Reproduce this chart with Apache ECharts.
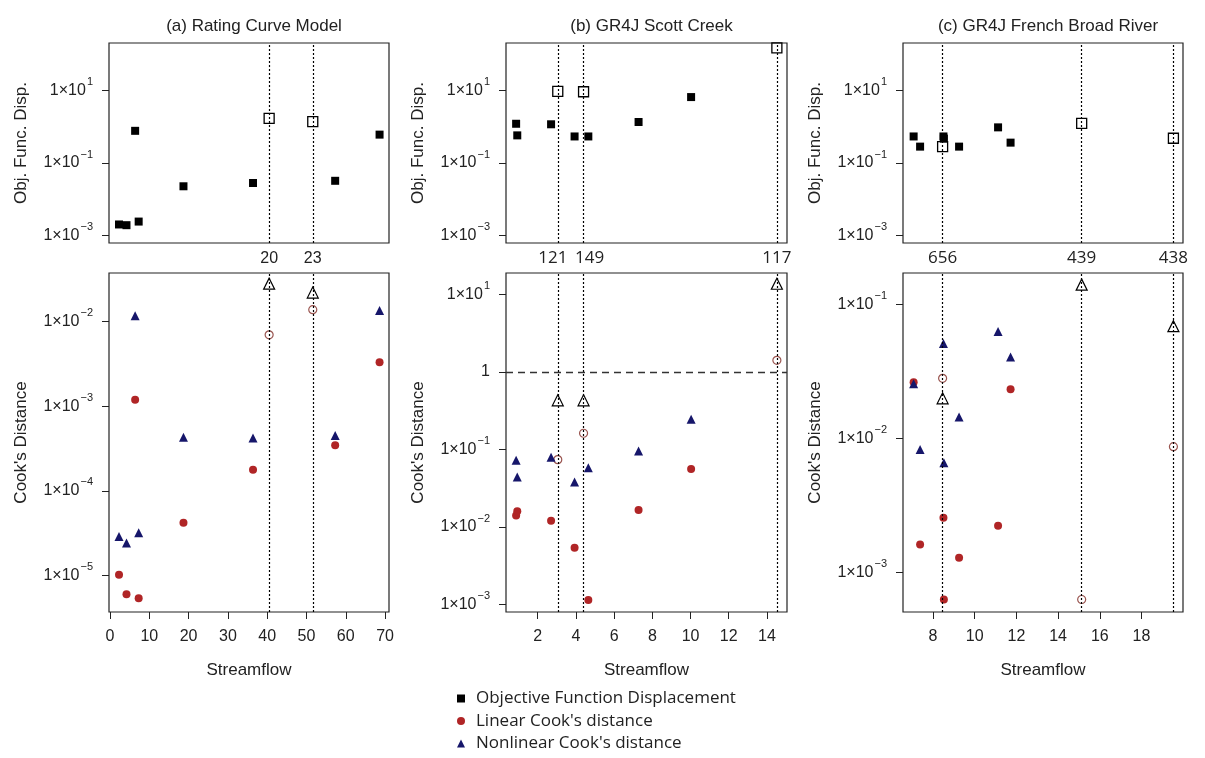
<!DOCTYPE html>
<html><head><meta charset="utf-8">
<script src="https://cdn.jsdelivr.net/npm/echarts@6/dist/echarts.min.js"></script>
<style>html,body{margin:0;padding:0;background:#fff}#c{width:1205px;height:758px}</style>
</head><body><div id="c"></div>
<script>
// ---- Panel (a) Rating Curve Model ----
const flowA = [2.3, 4.2, 6.4, 7.3, 18.7, 36.4, 40.5, 51.6, 57.3, 68.6];
const objA  = [0.00204, 0.00195, 0.767, 0.00245, 0.0229, 0.0282, 1.68, 1.38, 0.0324, 0.603];
const linA  = [1.02e-5, 6.0e-6, 1.19e-3, 5.4e-6, 4.2e-5, 1.78e-4, 6.97e-3, 1.38e-2, 3.47e-4, 3.31e-3];
const nonA  = [2.9e-5, 2.43e-5, 1.17e-2, 3.2e-5, 4.3e-4, 4.2e-4, 2.8e-2, 2.2e-2, 4.5e-4, 1.35e-2];
const outA = [6, 7];
const outLabA = ['20', '23'];

// ---- Panel (b) GR4J Scott Creek ----
const flowB = [0.87, 0.93, 2.70, 3.05, 3.93, 4.40, 4.65, 7.28, 10.03, 14.52];
const objB  = [1.20, 0.575, 1.16, 9.3, 0.537, 9.1, 0.537, 1.34, 6.5, 146];
const linB  = [0.0141, 0.016, 0.0121, 0.074, 0.0054, 0.162, 0.00115, 0.0166, 0.056, 1.41];
const nonB  = [0.0724, 0.0442, 0.0794, 0.43, 0.038, 0.43, 0.0582, 0.0955, 0.245, 13.7];
const outB = [3, 5, 9];
const outLabB = ['121', '149', '117'];

// ---- Panel (c) GR4J French Broad River ----
const flowC = [7.07, 7.38, 8.46, 8.50, 8.52, 9.25, 11.12, 11.72, 15.13, 19.53];
const objC  = [0.537, 0.282, 0.282, 0.537, 0.468, 0.282, 0.955, 0.363, 1.23, 0.479];
const linC  = [0.0263, 0.00162, 0.0282, 0.00257, 0.00063, 0.00129, 0.00224, 0.0234, 0.00063, 0.0087];
const nonC  = [0.0257, 0.0083, 0.020, 0.0513, 0.0066, 0.0145, 0.063, 0.0407, 0.141, 0.069];
const outC = [2, 8, 9];
const outLabC = ['656', '439', '438'];

// ---- tick labels ----
const xTicksA = [0, 10, 20, 30, 40, 50, 60, 70];
const xTicksB = [2, 4, 6, 8, 10, 12, 14];
const xTicksC = [8, 10, 12, 14, 16, 18];
const yExpTop = [-3, -1, 1];
const yExpA = [-5, -4, -3, -2];
const yExpB = [-3, -2, -1, 0, 1];
const yExpC = [-3, -2, -1];
const titles = ['(a) Rating Curve Model', '(b) GR4J Scott Creek', '(c) GR4J French Broad River'];
const legendNames = ['Objective Function Displacement', "Linear Cook's distance", "Nonlinear Cook's distance"];

const FONT = '"Liberation Sans", Arial, sans-serif';
const FONT2 = '"Open Sans", "Noto Sans", sans-serif';
const TXT = '#222';
const RED = '#b02526';
const NAVY = '#16166a';

const panels = [
  {flow: flowA, obj: objA, lin: linA, non: nonA, out: outA, outLab: outLabA, xTicks: xTicksA, yBot: yExpA,
   left: 109, width: 280, xMin: -0.25, xMax: 71.0, botExp: [-5.43, -1.427],
   labFont: FONT, labSize: 16, labPad: [[0, 0, 0, 0], [0, 0, 0, 0]]},
  {flow: flowB, obj: objB, lin: linB, non: nonB, out: outB, outLab: outLabB, xTicks: xTicksB, yBot: yExpB,
   left: 506, width: 281, xMin: 0.34, xMax: 15.05, botExp: [-3.095, 1.275], hline: 1,
   labFont: FONT2, labSize: 17, labPad: [[0, 10, 0, 0], [0, 0, 0, 12], [0, 0, 0, 0]]},
  {flow: flowC, obj: objC, lin: linC, non: nonC, out: outC, outLab: outLabC, xTicks: xTicksC, yBot: yExpC,
   left: 903, width: 280, xMin: 6.56, xMax: 19.99, botExp: [-3.294, -0.764],
   labFont: FONT2, labSize: 17, labPad: [[0, 0, 0, 0], [0, 0, 0, 0], [0, 0, 0, 0]]}
];
const topExp = [-3.2, 2.3];

function expLabel(v) {
  const e = Math.round(v);
  if (e === 0) return '{m|1}';
  return '{m|1\u00d710}{e|' + (e < 0 ? '\u2212' : '') + Math.abs(e) + '}';
}
const rich = {
  m: {fontSize: 16, lineHeight: 16, padding: [6, 0, 6, 0], fontFamily: FONT, color: TXT},
  e: {fontSize: 11, lineHeight: 11, padding: [0, 0, 17, 1], fontFamily: FONT, color: TXT}
};

const grid = [], xAxis = [], yAxis = [], series = [];
panels.forEach((p, i) => {
  const gTop = grid.length;
  grid.push({left: p.left, top: 43, width: p.width, height: 200, show: true, borderColor: '#222', borderWidth: 1.2, backgroundColor: 'transparent'});
  const gBot = grid.length;
  grid.push({left: p.left, top: 273, width: p.width, height: 339, show: true, borderColor: '#222', borderWidth: 1.2, backgroundColor: 'transparent'});

  const xTop = xAxis.length;
  xAxis.push({type: 'value', gridIndex: gTop, min: p.xMin, max: p.xMax, show: false, axisLine: {onZero: false}});
  const xBot = xAxis.length;
  xAxis.push({type: 'value', gridIndex: gBot, min: p.xMin, max: p.xMax, position: 'bottom',
    name: 'Streamflow', nameLocation: 'middle', nameGap: 50,
    nameTextStyle: {fontFamily: FONT, fontSize: 17, color: TXT},
    axisLine: {show: false, onZero: false}, splitLine: {show: false},
    axisTick: {show: true, customValues: p.xTicks, length: 7, lineStyle: {color: '#222', width: 1}},
    axisLabel: {customValues: p.xTicks, margin: 17, fontFamily: FONT, fontSize: 16, color: TXT}});

  // hidden log axes carry the data
  const yTopLog = yAxis.length;
  yAxis.push({type: 'log', logBase: 10, gridIndex: gTop, min: Math.pow(10, topExp[0]), max: Math.pow(10, topExp[1]), show: false, position: 'right', axisLine: {onZero: false}});
  const yBotLog = yAxis.length;
  yAxis.push({type: 'log', logBase: 10, gridIndex: gBot, min: Math.pow(10, p.botExp[0]), max: Math.pow(10, p.botExp[1]), show: false, position: 'right', axisLine: {onZero: false}});
  // visible label axes (decade exponents)
  const mkLabelAxis = (g, ext, exps, name) => ({
    type: 'value', gridIndex: g, min: ext[0], max: ext[1], position: 'left',
    name: name, nameLocation: 'middle', nameGap: 79, nameRotate: 90,
    nameTextStyle: {fontFamily: FONT, fontSize: 17, color: TXT},
    axisLine: {show: false, onZero: false}, splitLine: {show: false},
    axisTick: {show: true, customValues: exps, length: 7, lineStyle: {color: '#222', width: 1}},
    axisLabel: {customValues: exps, margin: 16, formatter: expLabel, rich: rich}
  });
  yAxis.push(mkLabelAxis(gTop, topExp, yExpTop, 'Obj. Func. Disp.'));
  yAxis.push(mkLabelAxis(gBot, p.botExp, p.yBot, "Cook's Distance"));

  const isOut = k => p.out.indexOf(k) >= 0;
  const vLines = p.out.map(k => ({xAxis: p.flow[k]}));

  series.push({
    name: legendNames[0], type: 'scatter', xAxisIndex: xTop, yAxisIndex: yTopLog,
    symbol: 'rect', symbolSize: 8, itemStyle: {color: '#000', opacity: 1}, z: 3,
    data: p.flow.map((x, k) => isOut(k)
      ? {value: [x, p.obj[k]], symbolSize: 10, itemStyle: {color: 'rgba(0,0,0,0)', borderColor: '#000', borderWidth: 1.3}}
      : [x, p.obj[k]]),
    markLine: {silent: true, symbol: 'none', animation: false, label: {show: false},
      lineStyle: {type: [2, 2], color: '#000', width: 1.2}, data: vLines}
  });

  const botLines = p.out.map((k, j) => ({xAxis: p.flow[k],
    label: {show: true, position: 'end', distance: 6, formatter: p.outLab[j], padding: p.labPad[j],
      fontFamily: p.labFont, fontSize: p.labSize, color: TXT}}));
  if (p.hline !== undefined) {
    botLines.push({yAxis: p.hline, label: {show: false}, lineStyle: {type: [7, 5], color: '#333', width: 1.3}});
  }
  series.push({
    name: legendNames[1], type: 'scatter', xAxisIndex: xBot, yAxisIndex: yBotLog,
    symbol: 'circle', symbolSize: 8, itemStyle: {color: RED, opacity: 1}, z: 3,
    data: p.flow.map((x, k) => isOut(k)
      ? {value: [x, p.lin[k]], symbolSize: 8, itemStyle: {color: 'rgba(0,0,0,0)', borderColor: '#9a5550', borderWidth: 1.2}}
      : [x, p.lin[k]]),
    markLine: {silent: true, symbol: 'none', animation: false,
      lineStyle: {type: [2, 2], color: '#000', width: 1.2}, data: botLines}
  });
  series.push({
    name: legendNames[2], type: 'scatter', xAxisIndex: xBot, yAxisIndex: yBotLog,
    symbol: 'triangle', symbolSize: 9, itemStyle: {color: NAVY, opacity: 1}, z: 4,
    data: p.flow.map((x, k) => isOut(k)
      ? {value: [x, p.non[k]], symbolSize: 11, itemStyle: {color: 'rgba(0,0,0,0)', borderColor: '#000', borderWidth: 1.2}}
      : [x, p.non[k]])
  });
});

const chart = echarts.init(document.getElementById('c'), null, {renderer: 'canvas'});
chart.setOption({
  animation: false,
  backgroundColor: '#fff',
  title: panels.map((p, i) => ({
    text: titles[i], left: p.left + p.width / 2, top: 13, textAlign: 'center',
    textStyle: {fontFamily: FONT, fontSize: 17, fontWeight: 'normal', color: TXT}
  })),
  legend: {
    orient: 'vertical', left: 457, top: 690, padding: 0, itemWidth: 8, itemHeight: 8, itemGap: 5.5,
    selectedMode: false,
    textStyle: {fontFamily: FONT2, fontSize: 17, color: TXT, lineHeight: 17, padding: [0, 0, 0, 6]},
    data: [
      {name: legendNames[0], icon: 'rect'},
      {name: legendNames[1], icon: 'circle'},
      {name: legendNames[2], icon: 'triangle'}
    ]
  },
  grid: grid, xAxis: xAxis, yAxis: yAxis, series: series
});
</script>
</body></html>
